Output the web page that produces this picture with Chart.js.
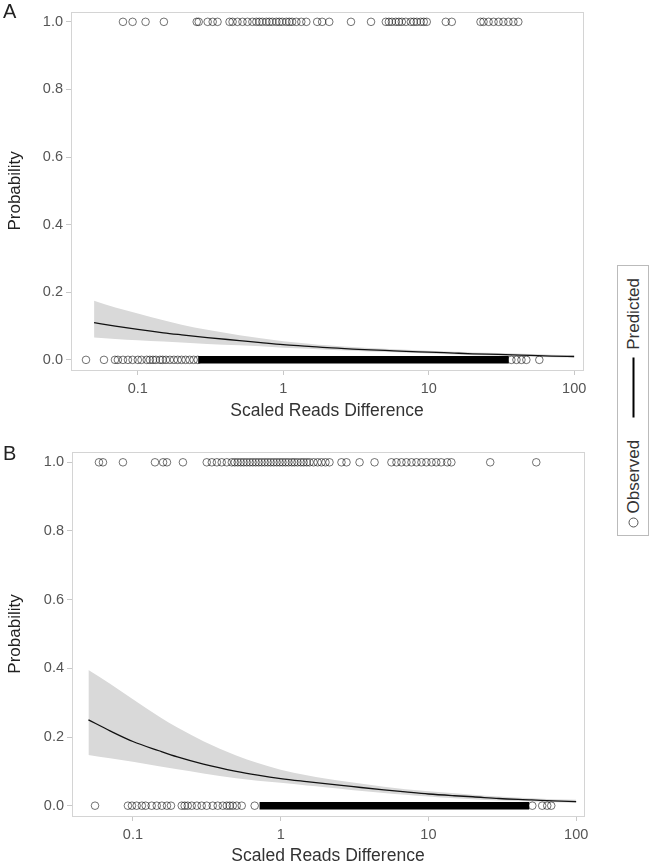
<!DOCTYPE html>
<html>
<head>
<meta charset="utf-8">
<script src="https://cdn.jsdelivr.net/npm/chart.js@4.4.0/dist/chart.umd.min.js"></script>
<style>
  body { margin: 0; background: #fff; font-family: "Liberation Sans", Arial, sans-serif; }
  #page { position: relative; width: 650px; height: 867px; overflow: hidden; }
  .panel { position: absolute; left: 0; width: 610px; }
  .tag { position: absolute; left: 3px; font-size: 20px; color: #222; }
  #legend { position: absolute; left: 617px; top: 265px; width: 30px; height: 269px; border: 1px solid #bbb; background: #fff; }
  #legend .inner { position: absolute; width: 269px; height: 30px; left: -119.5px; top: 119.5px; transform: rotate(-90deg);
    display: flex; align-items: center; font-size: 17px; color: #333; }
  .lg-dot { width: 8px; height: 8px; border: 1px solid #555; border-radius: 50%; margin-left: 8px; }
  .lg-line { width: 60px; height: 2px; background: #000; margin-left: 22px; margin-right: 8px; }
</style>
</head>
<body>
<div id="page">
  <div class="panel" style="top:0;height:430px"><canvas id="chartA"></canvas></div>
  <div class="panel" style="top:430px;height:437px"><canvas id="chartB"></canvas></div>
  <div class="tag" style="top:0">A</div>
  <div class="tag" style="top:442px">B</div>
  <div id="legend"><div class="inner"><span class="lg-dot"></span><span style="margin-left:4px">Observed</span><span class="lg-line"></span><span>Predicted</span></div></div>
</div>
<script>
// --- DATA ---
const xTicks = [0.1, 1, 10, 100];
const yTicks = [0, 0.2, 0.4, 0.6, 0.8, 1.0];
const curveX = [0.05, 0.07, 0.1, 0.15, 0.2, 0.3, 0.5, 0.7, 1, 1.5, 2, 3, 5, 7, 10, 15, 20, 30, 50, 70, 100];

// panel A
const predA  = [0.110, 0.100, 0.090, 0.080, 0.074, 0.066, 0.057, 0.051, 0.045, 0.040, 0.036, 0.032, 0.028, 0.025, 0.023, 0.020, 0.018, 0.016, 0.013, 0.011, 0.010];
const upperA = [0.175, 0.155, 0.137, 0.117, 0.104, 0.089, 0.073, 0.064, 0.055, 0.048, 0.043, 0.038, 0.033, 0.030, 0.027, 0.024, 0.022, 0.020, 0.017, 0.015, 0.014];
const lowerA = [0.066, 0.062, 0.058, 0.054, 0.051, 0.047, 0.043, 0.040, 0.036, 0.033, 0.030, 0.027, 0.023, 0.021, 0.019, 0.016, 0.014, 0.012, 0.009, 0.008, 0.007];
const obsOneA = [0.079, 0.092, 0.113, 0.151, 0.254, 0.262, 0.302, 0.327, 0.353, 0.427, 0.448, 0.484, 0.524, 0.567,
  0.613, 0.653, 0.685, 0.718, 0.765, 0.802, 0.841, 0.896, 0.939, 0.984, 1.05, 1.10, 1.15, 1.23, 1.33, 1.44, 1.71,
  1.85, 2.07, 2.92, 4.01, 5.07, 5.32, 5.58, 5.94, 6.23, 6.53, 6.96, 7.53, 7.89, 8.28, 8.81, 9.24, 9.69, 13.1, 14.4,
  22.7, 23.8, 25.8, 27.9, 30.2, 32.6, 35.3, 38.2, 41.3];
const obsZeroA = [0.044, 0.0585, 0.0696, 0.0729, 0.079, 0.0855, 0.092, 0.100, 0.106, 0.115, 0.121, 0.127, 0.133,
  0.142, 0.148, 0.156, 0.166, 0.177, 0.188, 0.200, 0.213, 0.227, 0.242, 0.258, 37.0, 40.1, 43.4, 46.9, 57.6];
const denseZeroA = [0.26, 35.5];   // span where observed zeros overlap into a solid run

// panel B
const predB  = [0.250, 0.218, 0.187, 0.160, 0.142, 0.121, 0.100, 0.089, 0.079, 0.070, 0.064, 0.056, 0.046, 0.040, 0.034, 0.029, 0.026, 0.021, 0.017, 0.014, 0.012];
const upperB = [0.395, 0.355, 0.310, 0.260, 0.228, 0.188, 0.146, 0.124, 0.105, 0.089, 0.079, 0.068, 0.055, 0.048, 0.042, 0.036, 0.032, 0.027, 0.022, 0.019, 0.017];
const lowerB = [0.148, 0.138, 0.128, 0.115, 0.106, 0.094, 0.080, 0.073, 0.067, 0.059, 0.054, 0.046, 0.037, 0.032, 0.027, 0.022, 0.019, 0.015, 0.012, 0.010, 0.008];
const obsOneB = [0.0589, 0.0627, 0.0856, 0.141, 0.160, 0.170, 0.218, 0.316, 0.342, 0.370, 0.399, 0.432, 0.467, 0.489,
  0.512, 0.537, 0.562, 0.589, 0.618, 0.647, 0.678, 0.710, 0.744, 0.780, 0.817, 0.856, 0.897, 0.940, 0.985, 1.03,
  1.08, 1.13, 1.19, 1.24, 1.30, 1.37, 1.43, 1.50, 1.57, 1.67, 1.78, 1.89, 2.01, 2.14, 2.58, 2.79, 3.42, 4.32, 5.62,
  6.08, 6.57, 7.10, 7.68, 8.30, 8.97, 9.69, 10.5, 11.3, 12.2, 13.4, 14.3, 26.2, 53.7];
const obsZeroB = [0.0554, 0.0925, 0.0985, 0.106, 0.115, 0.122, 0.134, 0.145, 0.157, 0.170, 0.181, 0.214, 0.224, 0.235,
  0.250, 0.271, 0.292, 0.316, 0.347, 0.375, 0.406, 0.432, 0.452, 0.474, 0.504, 0.545, 0.667, 50.5, 58.9, 63.7, 67.8];
const denseZeroB = [0.72, 48.1];

// --- HELPERS ---
const pts = (xs, ys) => xs.map((x, i) => ({ x: x, y: Array.isArray(ys) ? ys[i] : ys }));

const framePlugin = {
  id: 'frame',
  beforeDatasetsDraw(chart) {
    const a = chart.chartArea, ctx = chart.ctx;
    ctx.save();
    ctx.strokeStyle = '#d4d4d4';
    ctx.lineWidth = 1;
    ctx.strokeRect(Math.round(a.left) + 0.5, Math.round(a.top) + 0.5, Math.round(a.width), Math.round(a.height));
    ctx.restore();
  }
};

function createPanel(canvasId, o) {
  const ctx = document.getElementById(canvasId).getContext('2d');
  const smooth = { showLine: true, pointRadius: 0, cubicInterpolationMode: 'monotone' };
  return new Chart(ctx, {
    type: 'scatter',
    data: {
      datasets: [
        { ...smooth, data: pts(curveX, o.upper), fill: '+1', backgroundColor: '#d9d9d9', borderWidth: 0, order: 6 },
        { ...smooth, data: pts(curveX, o.lower), fill: false, borderWidth: 0, order: 7 },
        { data: pts(o.dense, 0), showLine: true, borderColor: '#000', borderWidth: 7.5, borderCapStyle: 'butt', pointRadius: 0, order: 4 },
        { data: pts(o.zero, 0), pointRadius: 3.8, pointBorderWidth: 1, pointBorderColor: 'rgba(0,0,0,0.55)', pointBackgroundColor: 'rgba(0,0,0,0)', order: 3 },
        { data: pts(o.one, 1), pointRadius: 3.8, pointBorderWidth: 1, pointBorderColor: 'rgba(0,0,0,0.55)', pointBackgroundColor: 'rgba(0,0,0,0)', order: 2 },
        { ...smooth, data: pts(curveX, o.pred), borderColor: '#111', borderWidth: 1.3, order: 1 }
      ]
    },
    options: {
      responsive: true,
      maintainAspectRatio: false,
      animation: false,
      events: [],
      layout: { padding: { top: o.top, left: 0, right: o.right, bottom: 0 } },
      plugins: { legend: { display: false }, tooltip: { enabled: false } },
      scales: {
        x: {
          type: 'logarithmic',
          min: o.xmin, max: o.xmax,
          afterBuildTicks: axis => { axis.ticks = xTicks.map(v => ({ value: v })); },
          afterFit: axis => { axis.height = o.xh; },
          ticks: { callback: v => String(v), color: '#555', font: { size: 14.5 }, padding: 5, maxRotation: 0, autoSkip: false },
          grid: { drawOnChartArea: false, drawTicks: true, tickLength: 5, color: '#c8c8c8' },
          border: { display: false },
          title: { display: true, text: 'Scaled Reads Difference', color: '#333', font: { size: 17.5 }, padding: { top: 0, bottom: o.titleB } }
        },
        y: {
          min: -0.03, max: 1.03,
          afterBuildTicks: axis => { axis.ticks = yTicks.map(v => ({ value: v })); },
          afterFit: axis => { axis.width = o.yw; },
          ticks: { callback: v => v.toFixed(1), color: '#555', font: { size: 14.5 }, padding: 3 },
          grid: { drawOnChartArea: false, drawTicks: true, tickLength: 5, color: '#c8c8c8' },
          border: { display: false },
          title: { display: true, text: 'Probability', color: '#222', font: { size: 17 }, padding: { top: 5, bottom: 0 } }
        }
      }
    },
    plugins: [framePlugin]
  });
}

createPanel('chartA', { pred: predA, upper: upperA, lower: lowerA, one: obsOneA, zero: obsZeroA, dense: denseZeroA,
  top: 7, right: 27, xh: 60, yw: 71, xmin: 0.0347, xmax: 115, titleB: 8 });
createPanel('chartB', { pred: predB, upper: upperB, lower: lowerB, one: obsOneB, zero: obsZeroB, dense: denseZeroB,
  top: 22, right: 26, xh: 51, yw: 72, xmin: 0.0387, xmax: 113, titleB: 0 });
</script>
</body>
</html>
